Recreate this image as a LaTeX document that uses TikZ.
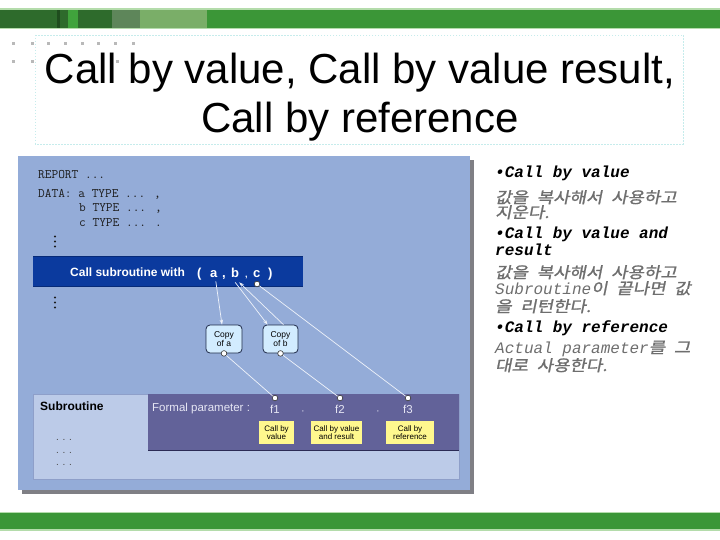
\documentclass[tikz,border=0pt]{standalone}
\usepackage{fontspec}
\setmainfont{Liberation Sans}
\newfontfamily\monofam{Liberation Mono}
\newfontfamily\krfam[FakeSlant=0.2,FakeStretch=1.15,FakeBold=1.2,WordSpace=2.2]{Noto Sans CJK KR}
\usetikzlibrary{arrows.meta}
\newcommand\fsz[1]{\fontsize{#1}{#1}\selectfont}
\definecolor{gband}{HTML}{3B9637}
\definecolor{glight}{HTML}{B4DCAB}
\definecolor{gdark}{HTML}{2E6B2C}
\definecolor{gdarker}{HTML}{1F4D1E}
\definecolor{gbright}{HTML}{40A33C}
\definecolor{ggray}{HTML}{5E865A}
\definecolor{gpale}{HTML}{7AAE68}
\definecolor{panelc}{HTML}{94ACD8}
\definecolor{shadowc}{HTML}{7F7F85}
\definecolor{subboxc}{HTML}{BCCBE8}
\definecolor{subedge}{HTML}{8E9FC9}
\definecolor{purp}{HTML}{626299}
\definecolor{purpedge}{HTML}{2B2B55}
\definecolor{callband}{HTML}{0B3A9E}
\definecolor{calledge}{HTML}{062A78}
\definecolor{copyfill}{HTML}{D2ECFF}
\definecolor{copyedge}{HTML}{1E2A48}
\definecolor{yel}{HTML}{FFF88E}
\definecolor{connc}{HTML}{EEF2FA}
\definecolor{dotc}{HTML}{B9B9B9}
\definecolor{tborder}{HTML}{C6ECEC}
\definecolor{explc}{HTML}{6E6E6E}
\definecolor{codec}{HTML}{1C1C1C}
\definecolor{fptext}{HTML}{E6E6F4}
\tikzset{
  codetxt/.style={anchor=base west, inner sep=0pt, font=\ttfamily\fsz{13}, text=codec},
  bultxt/.style={anchor=base west, inner sep=0pt, font=\monofam\bfseries\itshape\fsz{16}, text=black},
  expltxt/.style={anchor=base west, inner sep=0pt, font=\krfam\fsz{15.5}, text=explc},
  bandtxt/.style={anchor=base west, inner sep=0pt, font=\bfseries\fsz{12}, text=white},
  parchar/.style={anchor=base west, inner sep=0pt, font=\bfseries\fsz{13}, text=white},
  copybox/.style={draw=copyedge, fill=copyfill, line width=0.8pt, rounded corners=4pt,
    minimum height=28pt, inner sep=0pt, align=center, font=\fsz{8.5}, text=black},
  ybox/.style={fill=yel, minimum height=23pt, inner sep=0pt, align=center, font=\fsz{8}, text=black},
  flab/.style={inner sep=0pt, font=\fsz{11.5}, text=fptext},
  connline/.style={draw=connc, line width=0.7pt},
  connarrow/.style={connline, -{Stealth[length=5pt,width=3.5pt]}},
  pdot/.style={fill=white, draw=black!80, line width=0.6pt},
  gdot/.style={fill=dotc},
  vdot/.style={fill=codec},
  sdots/.style={anchor=base west, inner sep=0pt, font=\fsz{10}, text=black!70}
}
\begin{document}
\begin{tikzpicture}[x=1pt,y=-1pt]
\useasboundingbox (0,0) rectangle (720,540);
\fill[white] (0,0) rectangle (720,540);
% top band
\fill[glight] (0,8.5) rectangle (720,29.5);
\fill[gband] (0,10) rectangle (720,28);
\fill[gdark] (0,10) rectangle (112,28);
\fill[gdarker] (57,10) rectangle (60,28);
\fill[gbright] (68,10) rectangle (78,28);
\fill[ggray] (112,10) rectangle (140,28);
\fill[gpale] (140,10) rectangle (207,28);
% bottom band
\fill[glight] (0,511.5) rectangle (720,530.5);
\fill[gband] (0,513) rectangle (720,529);
% title box
\draw[tborder, line width=0.8pt, dash pattern=on 1.5pt off 1.5pt] (35,35) rectangle (683,144);
\foreach \xx in {13,32,48,65,82,98,115,133} {\fill[gdot] (\xx-1.5,42.5) rectangle (\xx+1.5,45.5);}
\foreach \xx in {13,32,117} {\fill[gdot] (\xx-1.5,60.5) rectangle (\xx+1.5,63.5);}
\node[anchor=base, inner sep=0pt, font=\fsz{42}] (title1) at (360,84) {Call by value, Call by value result,};
\node[anchor=base, inner sep=0pt, font=\fsz{42}] (title2) at (360,133) {Call by reference};
% panel
\fill[shadowc] (22,160) rectangle (474,494);
\fill[panelc] (18,156) rectangle (470,490);
\filldraw[fill=subboxc, draw=subedge, line width=0.6pt] (33,394) rectangle (459,479);
\fill[purp] (148,394) rectangle (459,450);
\draw[purpedge, line width=1pt] (148,450) -- (459,450);
\fill[callband] (33,256) rectangle (303,287);
\draw[calledge, line width=1pt] (33,256.5) -- (303,256.5);
\draw[calledge, line width=1pt] (33,286.5) -- (303,286.5);
% code
\node[codetxt] (rep) at (38,178.5) {REPORT ...};
\node[codetxt] (data) at (38,197) {DATA: a TYPE ... ,};
\node[codetxt] (datab) at (79,211.5) {b TYPE ... ,};
\node[codetxt] (datac) at (79,226) {c TYPE ... .};
\foreach \yy in {236.5,241.5,246.5} {\fill[vdot] (55,\yy) circle[radius=1.1pt];}
\foreach \yy in {297.5,302.5,307.5} {\fill[vdot] (55,\yy) circle[radius=1.1pt];}
% call band
\node[bandtxt] (callsub) at (70,276) {Call subroutine with};
\node[parchar] (lpar) at (197,277) {(};
\node[parchar] (a) at (210,277) {a};
\node[parchar] (cm1) at (222,277) {,};
\node[parchar] (b) at (231,277) {b};
\node[parchar, font=\bfseries\fsz{9}] (cm2) at (245,277) {,};
\node[parchar] (c) at (253,277) {c};
\node[parchar] (rpar) at (268,277) {)};
% copy boxes
\node[copybox, minimum width=36pt] (copya) at (224,339) {Copy\\of a};
\node[copybox, minimum width=35pt] (copyb) at (280.5,339) {Copy\\of b};
% subroutine
\node[anchor=base west, inner sep=0pt, font=\bfseries\fsz{12}] (sub) at (40,410) {Subroutine};
\node[sdots] (sd1) at (56,440.5) {. . .};
\node[sdots] (sd2) at (56,453.5) {. . .};
\node[sdots] (sd3) at (56,465.5) {. . .};
\node[anchor=west, flab] (fp) at (152,409) {Formal parameter :};
\node[flab] (f1) at (275,409.5) {f1};
\node[flab] (f2) at (340,409.5) {f2};
\node[flab] (f3) at (408,409.5) {f3};
\node[flab, font=\fsz{8}] (fc1) at (303,412) {,};
\node[flab, font=\fsz{8}] (fc2) at (378,412) {,};
\node[ybox, minimum width=35pt] (y1) at (276.5,432.5) {Call by\\value};
\node[ybox, minimum width=51pt] (y2) at (336.5,432.5) {Call by value\\and result};
\node[ybox, minimum width=48pt] (y3) at (410,432.5) {Call by\\reference};
% connectors
\coordinate (cdot) at (257,284);
\coordinate (f1dot) at (275,398);
\coordinate (f2dot) at (340,398);
\coordinate (f3dot) at (408,398);
\draw[connarrow] ([xshift=2pt,yshift=-4pt]a.south) -- ([xshift=-2pt]copya.north);
\draw[connarrow] ([yshift=-5pt]b.south) -- ([xshift=5pt]copyb.north west);
\draw[connarrow] ([xshift=-15pt]copyb.north east) -- ([xshift=4pt,yshift=-5pt]b.south);
\draw[connline] (cdot) -- (f3dot);
\draw[connline] (copya.south) -- (f1dot);
\draw[connline] (copyb.south) -- (f2dot);
\foreach \p in {cdot,f1dot,f2dot,f3dot} {\filldraw[pdot] (\p) circle[radius=2.8pt];}
\filldraw[pdot] (copya.south) circle[radius=2.8pt];
\filldraw[pdot] (copyb.south) circle[radius=2.8pt];
% right column
\node[bultxt] (b1) at (495,178) {•Call by value};
\node[expltxt] (k1) at (495,203) {값을 복사해서 사용하고};
\node[expltxt] (k2) at (495,218) {지운다.};
\node[bultxt] (b2) at (495,238) {•Call by value and};
\node[bultxt] (b2r) at (495,255) {result};
\node[expltxt] (k3) at (495,278) {값을 복사해서 사용하고};
\node[expltxt] (k4) at (495,294) {{\monofam\itshape\fsz{16}Subroutine}이 끝나면 값};
\node[expltxt] (k5) at (495,312) {을 리턴한다.};
\node[bultxt] (b3) at (495,332) {•Call by reference};
\node[expltxt] (k6) at (495,353) {{\monofam\itshape\fsz{16}Actual parameter}를 그};
\node[expltxt] (k7) at (495,371) {대로 사용한다.};
\end{tikzpicture}
\end{document}
